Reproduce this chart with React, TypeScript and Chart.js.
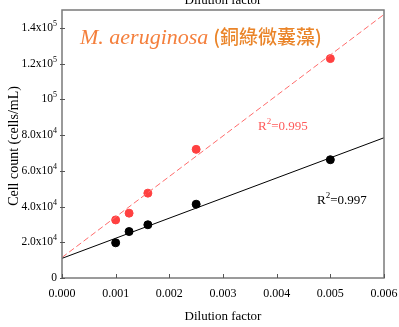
import React, { useEffect, useRef } from "react";
import { Chart, registerables } from "chart.js";

Chart.register(...registerables);

// ---- data ----
const redX = [0.001, 0.00125, 0.0016, 0.0025, 0.005];
const redY = [32500, 36300, 47500, 72000, 122800];
const blackX = [0.001, 0.00125, 0.0016, 0.0025, 0.005];
const blackY = [19700, 26000, 29800, 41300, 66200];
const redFitX = [0, 0.006];
const redFitY = [11500, 147500];
const blackFitX = [0, 0.006];
const blackFitY = [11000, 78500];

const xTickValues = [0, 0.001, 0.002, 0.003, 0.004, 0.005, 0.006];
const yTickValues = [0, 20000, 40000, 60000, 80000, 100000, 120000, 140000];
const yTickBases = ["0", "2.0x10", "4.0x10", "6.0x10", "8.0x10", "10", "1.2x10", "1.4x10"];
const yTickExps = ["", "4", "4", "4", "4", "5", "5", "5"];

const titleLatin = "M. aeruginosa";
const titleCJK = "(銅綠微囊藻)";
const xTitle = "Dilution factor";
const yTitle = "Cell count (cells/mL)";
const redR2 = "0.995";
const blackR2 = "0.997";

const SERIF = "'Liberation Serif', 'Times New Roman', serif";

const decorPlugin = {
  id: "decor",
  afterDraw(chart: any) {
    const { ctx, chartArea } = chart;
    const xs = chart.scales.x;
    const ys = chart.scales.y;
    const { left, right, top, bottom } = chartArea;
    ctx.save();
    // frame
    ctx.strokeStyle = "#7a7a7a";
    ctx.lineWidth = 1.5;
    ctx.strokeRect(left, top, right - left, bottom - top);
    // tick marks (inward)
    ctx.lineWidth = 1;
    ctx.strokeStyle = "#555";
    ctx.beginPath();
    xTickValues.forEach((v) => {
      const px = Math.round(xs.getPixelForValue(v)) + 0.5;
      ctx.moveTo(px, bottom);
      ctx.lineTo(px, bottom - 4);
    });
    yTickValues.forEach((v) => {
      const py = Math.round(ys.getPixelForValue(v)) + 0.5;
      ctx.moveTo(left - 2, py);
      ctx.lineTo(left + 3, py);
    });
    ctx.stroke();

    // y tick labels with superscripts
    ctx.fillStyle = "#000";
    ctx.textBaseline = "middle";
    yTickValues.forEach((v, i) => {
      const py = ys.getPixelForValue(v);
      const base = yTickBases[i];
      const exp = yTickExps[i];
      ctx.font = `8px ${SERIF}`;
      const ew = exp ? ctx.measureText(exp).width : 0;
      const rx = left - 5;
      if (exp) {
        ctx.textAlign = "right";
        ctx.fillText(exp, rx, py - 4);
      }
      ctx.font = `11.5px ${SERIF}`;
      ctx.textAlign = "right";
      ctx.fillText(base, rx - ew, py);
    });

    // axis titles
    ctx.font = `13px ${SERIF}`;
    ctx.textAlign = "center";
    ctx.textBaseline = "alphabetic";
    const cx = (left + right) / 2;
    ctx.fillText(xTitle, cx, 320);
    ctx.fillText(xTitle, cx, 4);
    ctx.save();
    ctx.font = `14px ${SERIF}`;
    ctx.translate(14, (top + bottom) / 2 + 2);
    ctx.rotate(-Math.PI / 2);
    ctx.textBaseline = "middle";
    ctx.fillText(yTitle, 0, 0);
    ctx.restore();

    // R^2 labels
    const drawR2 = (val: string, x: number, y: number, color: string) => {
      ctx.fillStyle = color;
      ctx.textAlign = "left";
      ctx.textBaseline = "alphabetic";
      ctx.font = `13px ${SERIF}`;
      ctx.fillText("R", x, y);
      const w = ctx.measureText("R").width;
      ctx.font = `9px ${SERIF}`;
      ctx.fillText("2", x + w, y - 6);
      const w2 = ctx.measureText("2").width;
      ctx.font = `13px ${SERIF}`;
      ctx.fillText("=" + val, x + w + w2, y);
    };
    drawR2(redR2, 258, 130, "#ff5a5a");
    drawR2(blackR2, 317, 204, "#000");

    // title
    ctx.textAlign = "left";
    ctx.textBaseline = "alphabetic";
    ctx.font = `italic 22px ${SERIF}`;
    ctx.fillStyle = "#f47f3c";
    ctx.fillText(titleLatin, 80, 44);
    const lw = ctx.measureText(titleLatin).width;
    ctx.font = `500 19px 'Noto Sans CJK TC', 'Noto Sans CJK SC', sans-serif`;
    ctx.fillStyle = "#ea8428";
    ctx.fillText(titleCJK, 80 + lw + 5, 44);
    ctx.restore();
  },
};

export default function App() {
  const ref = useRef<HTMLCanvasElement | null>(null);
  useEffect(() => {
    document.body.style.margin = "0";
    const canvas = ref.current!;
    const toPts = (xs: number[], ys: number[]) => xs.map((x, i) => ({ x, y: ys[i] }));
    const chart = new Chart(canvas, {
      type: "scatter",
      data: {
        datasets: [
          {
            data: toPts(redFitX, redFitY),
            showLine: true,
            borderColor: "#ff6b6b",
            borderWidth: 1,
            borderDash: [6, 3],
            pointRadius: 0,
          },
          {
            data: toPts(blackFitX, blackFitY),
            showLine: true,
            borderColor: "#000",
            borderWidth: 1,
            pointRadius: 0,
          },
          {
            data: toPts(redX, redY),
            backgroundColor: "#ff4040",
            borderColor: "#ff4040",
            pointRadius: 4,
          },
          {
            data: toPts(blackX, blackY),
            backgroundColor: "#000",
            borderColor: "#000",
            pointRadius: 4,
          },
        ],
      },
      options: {
        animation: false,
        responsive: false,
        layout: { padding: { left: 0, right: 15, top: 10, bottom: 0 } },
        plugins: { legend: { display: false }, tooltip: { enabled: false }, title: { display: false } },
        scales: {
          x: {
            type: "linear",
            min: 0,
            max: 0.006,
            afterFit: (s: any) => {
              s.height = 49;
              s.paddingLeft = 0;
              s.paddingRight = 0;
            },
            afterBuildTicks: (s: any) => {
              s.ticks = xTickValues.map((v) => ({ value: v }));
            },
            grid: { display: false, drawTicks: false },
            border: { display: false },
            ticks: {
              padding: 9,
              color: "#000",
              font: { family: SERIF, size: 12 },
              callback: (v: any) => Number(v).toFixed(3),
            },
          },
          y: {
            type: "linear",
            min: 0,
            max: 150000,
            afterFit: (s: any) => {
              s.width = 62;
              s.paddingTop = 0;
              s.paddingBottom = 0;
            },
            afterBuildTicks: (s: any) => {
              s.ticks = yTickValues.map((v) => ({ value: v }));
            },
            grid: { display: false, drawTicks: false },
            border: { display: false },
            ticks: { display: false },
          },
        },
      },
      plugins: [decorPlugin],
    } as any);
    return () => chart.destroy();
  }, []);
  return <canvas ref={ref} width={399} height={327} style={{ display: "block" }} />;
}
